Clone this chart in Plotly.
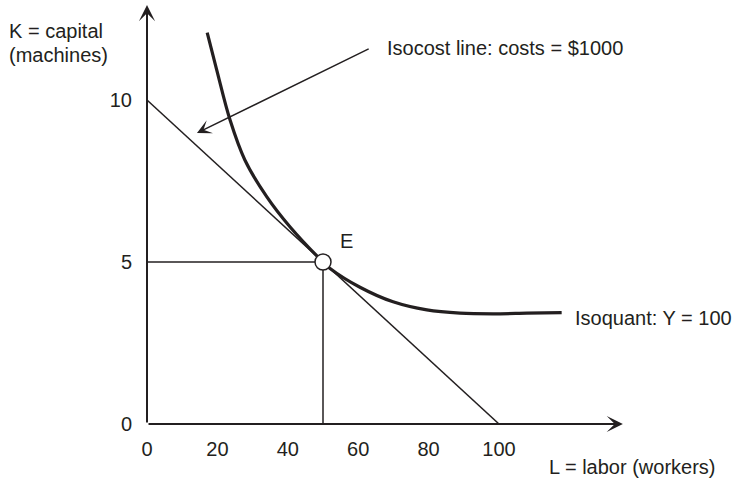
import plotly.graph_objects as go

# ---- data ----
x_ticks = [0, 20, 40, 60, 80, 100]
y_ticks = [0, 5, 10]

isocost_L = [0, 100]
isocost_K = [10, 0]

isoquant_L = [17.1, 19.8, 23.6, 27.8, 34.0, 40.6, 50.0, 52.0, 60.5, 69.9, 79.5, 88.9, 98.3, 107.9, 117.8]
isoquant_K = [12.08, 10.93, 9.38, 8.15, 7.02, 6.09, 5.0, 4.8, 4.22, 3.77, 3.52, 3.42, 3.40, 3.42, 3.44]

E_L = 50
E_K = 5

x_axis_end = 135.2
y_axis_end = 12.93

# ---- layout geometry ----
W, H = 741, 479
ML, MR, MT, MB = 147, 100, 0, 55
PW, PH = W - ML - MR, H - MT - MB
SX = 3.52
SY = 32.4
X_MAX = PW / SX
Y_MAX = PH / SY

INK = "#231f20"
FONT = "Liberation Sans, Arial, Helvetica, sans-serif"


def px(x):
    return (x - ML) / PW


def py(y):
    return (H - MB - y) / PH


fig = go.Figure()

# drop lines to E
fig.add_trace(go.Scatter(
    x=[0, E_L, None, E_L, E_L], y=[E_K, E_K, None, 0, E_K],
    mode="lines", line=dict(color=INK, width=1.5), hoverinfo="skip", showlegend=False))

# isocost line
fig.add_trace(go.Scatter(
    x=isocost_L, y=isocost_K, mode="lines",
    line=dict(color=INK, width=1.5), hoverinfo="skip", showlegend=False))

# isoquant
fig.add_trace(go.Scatter(
    x=isoquant_L, y=isoquant_K, mode="lines",
    line=dict(color=INK, width=3.2, shape="spline", smoothing=1.0),
    hoverinfo="skip", showlegend=False))

# point E
fig.add_trace(go.Scatter(
    x=[E_L], y=[E_K], mode="markers",
    marker=dict(size=16, color="white", line=dict(color=INK, width=1.5)),
    hoverinfo="skip", showlegend=False, cliponaxis=False))

annotations = [
    # axes with arrowheads
    dict(x=x_axis_end, y=0, ax=0, ay=0, xref="x", yref="y", axref="x", ayref="y",
         text="", showarrow=True, arrowhead=3, arrowsize=1.35, arrowwidth=2,
         arrowcolor=INK, standoff=0, startstandoff=0),
    dict(x=0, y=y_axis_end, ax=0, ay=0, xref="x", yref="y", axref="x", ayref="y",
         text="", showarrow=True, arrowhead=3, arrowsize=1.35, arrowwidth=2,
         arrowcolor=INK, standoff=0, startstandoff=0),
    # isocost pointer arrow
    dict(x=14.2, y=8.98, ax=63.4, ay=11.6, xref="x", yref="y", axref="x", ayref="y",
         text="", showarrow=True, arrowhead=3, arrowsize=1.6, arrowwidth=1.5,
         arrowcolor=INK, standoff=0),
    # texts
    dict(x=px(385), y=py(48), xref="paper", yref="paper", xanchor="left", yanchor="middle",
         text="Isocost line: costs = $1000", showarrow=False),
    dict(x=px(338), y=py(241), xref="paper", yref="paper", xanchor="left", yanchor="middle",
         text="E", showarrow=False),
    dict(x=px(573), y=py(318), xref="paper", yref="paper", xanchor="left", yanchor="middle",
         text="Isoquant: Y = 100", showarrow=False),
    dict(x=px(547), y=py(467), xref="paper", yref="paper", xanchor="left", yanchor="middle",
         text="L = labor (workers)", showarrow=False),
    dict(x=px(7), y=py(31), xref="paper", yref="paper", xanchor="left", yanchor="middle",
         text="K = capital", showarrow=False),
    dict(x=px(7), y=py(55), xref="paper", yref="paper", xanchor="left", yanchor="middle",
         text="(machines)", showarrow=False),
]

fig.update_layout(
    width=W, height=H,
    margin=dict(l=ML, r=MR, t=MT, b=MB, pad=0),
    paper_bgcolor="white", plot_bgcolor="white",
    font=dict(family=FONT, size=20, color=INK),
    annotations=annotations,
    showlegend=False,
    xaxis=dict(range=[0, X_MAX], showgrid=False, zeroline=False, showline=False,
               tickmode="array", tickvals=x_ticks, ticktext=[str(v) for v in x_ticks],
               ticks="", ticklabelstandoff=11, tickfont=dict(size=20, color=INK, family=FONT),
               fixedrange=True),
    yaxis=dict(range=[0, Y_MAX], showgrid=False, zeroline=False, showline=False,
               tickmode="array", tickvals=y_ticks, ticktext=[str(v) for v in y_ticks],
               ticks="", ticklabelstandoff=14, tickfont=dict(size=20, color=INK, family=FONT),
               fixedrange=True),
)

fig.write_html(
    "out.html",
    config={"displayModeBar": False},
    post_script="document.body.style.margin='0';document.body.style.overflow='hidden';",
)
